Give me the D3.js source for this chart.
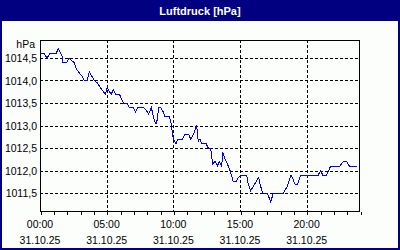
<!DOCTYPE html>
<html><head><meta charset="utf-8">
<script src="https://cdn.jsdelivr.net/npm/d3@7"></script>
<style>html,body{margin:0;padding:0;background:#000080;}svg{display:block;}</style>
</head><body>
<svg id="c" width="400" height="250"></svg>
<script>
const title = "Luftdruck [hPa]";
const unitLabel = "hPa";
const times = [0.00,0.30,0.525,0.75,1.2,1.37,1.65,1.7,2.0,2.17,2.33,2.55,2.75,3.0,3.15,3.32,3.55,3.7,3.88,4.07,4.3,4.5,4.75,4.9,5.05,5.2,5.35,5.5,5.68,5.95,6.25,6.5,6.7,7.0,7.15,7.35,7.75,7.95,8.15,8.35,8.5,8.65,8.75,8.9,9.05,9.25,9.35,9.7,9.8,9.9,10.0,10.2,10.35,10.7,10.85,11.15,11.3,11.5,11.75,11.87,12.0,12.13,12.45,12.62,12.8,12.95,13.13,13.3,13.45,13.63,13.7,13.88,14.05,14.25,14.5,14.7,14.87,15.25,15.5,15.62,15.8,16.0,16.2,16.4,16.5,16.7,17.05,17.3,17.5,18.25,18.55,18.83,19.13,19.33,19.55,20.87,21.05,21.2,21.5,21.8,22.5,22.75,23.0,23.2,23.8];
const values = [1014.6,1014.6,1014.5,1014.6,1014.6,1014.7,1014.55,1014.4,1014.4,1014.5,1014.45,1014.4,1014.25,1014.15,1014.1,1014.0,1014.0,1014.2,1014.1,1014.0,1013.95,1013.85,1013.75,1013.7,1013.85,1013.75,1013.7,1013.8,1013.7,1013.7,1013.5,1013.5,1013.4,1013.4,1013.3,1013.4,1013.4,1013.35,1013.25,1013.4,1013.2,1013.05,1013.05,1013.4,1013.4,1013.3,1013.2,1013.2,1013.1,1012.9,1012.7,1012.6,1012.7,1012.7,1012.8,1012.8,1012.7,1012.8,1013.0,1012.65,1012.7,1012.6,1012.6,1012.5,1012.5,1012.15,1012.2,1012.1,1012.2,1012.1,1012.4,1012.25,1012.15,1012.0,1011.75,1011.75,1011.85,1011.9,1011.9,1011.7,1011.55,1011.65,1011.75,1011.85,1011.7,1011.5,1011.5,1011.3,1011.5,1011.5,1011.65,1011.9,1011.7,1011.7,1011.9,1011.9,1012.0,1011.9,1011.9,1012.1,1012.1,1012.2,1012.2,1012.1,1012.1];
const yTicks = [1011.5,1012.0,1012.5,1013.0,1013.5,1014.0,1014.5];
const xTicks = [0,5,10,15,20];
const xTickLabels = ["00:00","05:00","10:00","15:00","20:00"];
const dateLabel = "31.10.25";

const svg = d3.select("#c");
const W = 400, H = 250;
const L = 40, R = 360, T = 40, B = 211;
svg.append("rect").attr("width",W).attr("height",H).attr("fill","#000080");
svg.append("rect").attr("x",2).attr("y",21).attr("width",396).attr("height",227).attr("fill","#fbfefb");
svg.append("text").attr("x",200).attr("y",15).attr("text-anchor","middle")
  .attr("fill","#ffffff").attr("font-family","Liberation Sans, Arial, sans-serif")
  .attr("font-weight","bold").attr("font-size","11px").text(title);

const x = d3.scaleLinear().domain([0,24]).range([L,R]);
const y = d3.scaleLinear().domain([1011.1,1014.9]).range([B,T]);
const font = "Liberation Sans, Arial, sans-serif";

// grid
const g = svg.append("g").attr("shape-rendering","crispEdges");
g.selectAll(".hg").data(yTicks).join("line")
  .attr("x1",L).attr("x2",R).attr("y1",d=>Math.round(y(d))+0.5).attr("y2",d=>Math.round(y(d))+0.5)
  .attr("stroke","#000").attr("stroke-dasharray","3,2");
g.selectAll(".vg").data(xTicks.filter(d=>d>0)).join("line")
  .attr("y1",T).attr("y2",B).attr("x1",d=>Math.round(x(d))+0.5).attr("x2",d=>Math.round(x(d))+0.5)
  .attr("stroke","#000").attr("stroke-dasharray","3,2");

// frame
g.append("rect").attr("x",L+0.5).attr("y",T+0.5).attr("width",R-L-1).attr("height",B-T)
  .attr("fill","none").attr("stroke","#000").attr("stroke-width",1);

// x axis minor ticks (hourly)
const xAxis = d3.axisBottom(x).tickValues(d3.range(0,25,1)).tickSize(3).tickFormat("");
const xa = svg.append("g").attr("transform",`translate(0.5,${B+0.5})`).call(xAxis);
xa.select(".domain").remove();
xa.selectAll("line").attr("stroke","#000").attr("shape-rendering","crispEdges");

// x labels
svg.selectAll(".xl").data(xTicks).join("text")
  .attr("x",(d)=>x(d)).attr("y",228).attr("text-anchor","middle")
  .attr("font-family",font).attr("font-size","10.5px").attr("fill","#000")
  .text((d,i)=>xTickLabels[i]);
svg.selectAll(".xd").data(xTicks).join("text")
  .attr("x",(d)=>x(d)).attr("y",244).attr("text-anchor","middle")
  .attr("font-family",font).attr("font-size","10.5px").attr("fill","#000")
  .text(dateLabel);

// y labels
svg.selectAll(".yl").data(yTicks).join("text")
  .attr("x",37).attr("y",d=>y(d)+4).attr("text-anchor","end")
  .attr("font-family",font).attr("font-size","10.5px").attr("fill","#000")
  .text(d=>d3.format(".1f")(d).replace(".",","));
svg.append("text").attr("x",35).attr("y",48).attr("text-anchor","end")
  .attr("font-family",font).attr("font-size","10.5px").attr("fill","#000").text(unitLabel);

// line
const data = times.map((t,i)=>({t, v: values[i]}));
svg.append("path").datum(data)
  .attr("d", d3.line().x(d=>x(d.t)).y(d=>y(d.v)))
  .attr("fill","none").attr("stroke","#0000ff").attr("stroke-width",1)
  .attr("shape-rendering","crispEdges");
</script>
</body></html>
